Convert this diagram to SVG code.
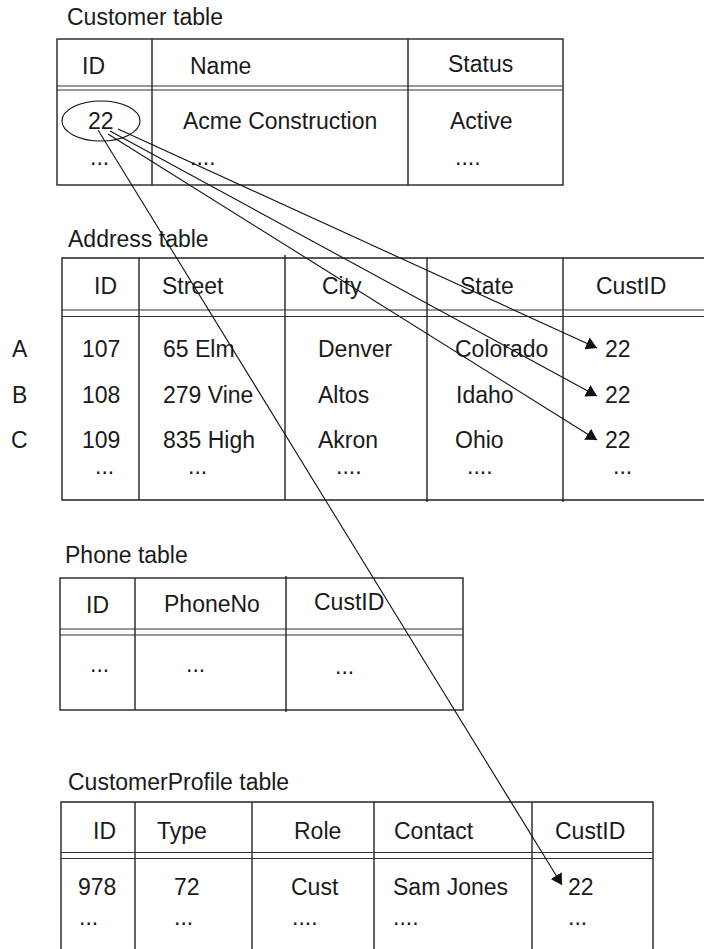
<svg xmlns="http://www.w3.org/2000/svg" width="704" height="949" viewBox="0 0 704 949">
<style>
text{font-family:"Liberation Sans",Arial,Helvetica,sans-serif;font-size:23px;fill:#1a1a1a}
.b{fill:none;stroke:#222;stroke-width:1.4}
.d{fill:none;stroke:#333;stroke-width:1.1}
.c{fill:none;stroke:#111;stroke-width:1.1}
</style>
<defs>
<marker id="ah" markerUnits="userSpaceOnUse" markerWidth="12" markerHeight="13" refX="11" refY="6.5" orient="auto">
<path d="M0,0 L11,6.5 L0,13 z" fill="#111"/>
</marker>
</defs>
<rect width="704" height="949" fill="#fff"/>

<g id="customer-table">
<text x="67" y="25">Customer table</text>
<rect class="b" x="57" y="39" width="506" height="146"/>
<line class="b" x1="152" y1="39" x2="152" y2="185"/>
<line class="b" x1="408" y1="39" x2="408" y2="185"/>
<line class="d" x1="57" y1="86" x2="563" y2="86"/>
<line class="d" x1="57" y1="90" x2="563" y2="90"/>
<text x="82" y="74">ID</text>
<text x="190" y="74">Name</text>
<text x="448" y="72">Status</text>
<text x="88" y="129">22</text>
<text x="183" y="129">Acme Construction</text>
<text x="450" y="129">Active</text>
<text x="90" y="165">...</text>
<text x="190" y="165">....</text>
<text x="455" y="165">....</text>
<ellipse class="c" cx="101" cy="121" rx="39" ry="20"/>
</g>

<g id="address-table">
<text x="68" y="247">Address table</text>
<polyline class="b" points="704,258 62,258 62,500 704,500"/>
<line class="b" x1="139" y1="258" x2="139" y2="500"/>
<line class="b" x1="285" y1="255" x2="285" y2="500"/>
<line class="b" x1="427" y1="258" x2="427" y2="502"/>
<line class="b" x1="563" y1="258" x2="563" y2="502"/>
<line class="d" x1="62" y1="310" x2="704" y2="310"/>
<line class="d" x1="62" y1="316.5" x2="704" y2="316.5"/>
<text x="94" y="294">ID</text>
<text x="162" y="294">Street</text>
<text x="322" y="294">City</text>
<text x="460" y="294">State</text>
<text x="596" y="294">CustID</text>
<text x="12" y="357">A</text>
<text x="82" y="357">107</text>
<text x="163" y="357">65 Elm</text>
<text x="318" y="357">Denver</text>
<text x="455" y="357">Colorado</text>
<text x="605" y="357">22</text>
<text x="12" y="403">B</text>
<text x="82" y="403">108</text>
<text x="163" y="403">279 Vine</text>
<text x="318" y="403">Altos</text>
<text x="456" y="403">Idaho</text>
<text x="605" y="403">22</text>
<text x="11" y="448">C</text>
<text x="82" y="448">109</text>
<text x="163" y="448">835 High</text>
<text x="318" y="448">Akron</text>
<text x="455" y="448">Ohio</text>
<text x="605" y="448">22</text>
<text x="95" y="474">...</text>
<text x="188" y="474">...</text>
<text x="336" y="474">....</text>
<text x="467" y="474">....</text>
<text x="613" y="474">...</text>
</g>

<g id="phone-table">
<text x="65" y="563">Phone table</text>
<rect class="b" x="60" y="578" width="403" height="132"/>
<line class="b" x1="135" y1="578" x2="135" y2="710"/>
<line class="b" x1="286" y1="576" x2="286" y2="712"/>
<line class="d" x1="60" y1="629" x2="463" y2="629"/>
<line class="d" x1="60" y1="635" x2="463" y2="635"/>
<text x="86" y="613">ID</text>
<text x="164" y="612">PhoneNo</text>
<text x="314" y="610">CustID</text>
<text x="90" y="672">...</text>
<text x="186" y="672">...</text>
<text x="335" y="674">...</text>
</g>

<g id="customerprofile-table">
<text x="68" y="790">CustomerProfile table</text>
<polyline class="b" points="61,949 61,802 653,802 653,949"/>
<line class="b" x1="135" y1="802" x2="135" y2="949"/>
<line class="b" x1="252" y1="802" x2="252" y2="949"/>
<line class="b" x1="374" y1="802" x2="374" y2="949"/>
<line class="b" x1="532" y1="802" x2="532" y2="949"/>
<line class="d" x1="61" y1="852.5" x2="653" y2="852.5"/>
<line class="d" x1="61" y1="858.5" x2="653" y2="858.5"/>
<text x="93" y="839">ID</text>
<text x="157" y="839">Type</text>
<text x="294" y="839">Role</text>
<text x="394" y="839">Contact</text>
<text x="555" y="839">CustID</text>
<text x="78" y="895">978</text>
<text x="174" y="895">72</text>
<text x="291" y="895">Cust</text>
<text x="393" y="895">Sam Jones</text>
<text x="568" y="895">22</text>
<text x="79" y="925">...</text>
<text x="174" y="925">...</text>
<text x="292" y="925">....</text>
<text x="393" y="925">....</text>
<text x="568" y="925">...</text>
</g>

<g id="connectors">
<line class="c" x1="118" y1="129" x2="597" y2="348" marker-end="url(#ah)"/>
<line class="c" x1="110" y1="131" x2="597" y2="396" marker-end="url(#ah)"/>
<line class="c" x1="108" y1="134" x2="597" y2="440" marker-end="url(#ah)"/>
<line class="c" x1="98" y1="130" x2="562" y2="885" marker-end="url(#ah)"/>
</g>
</svg>
